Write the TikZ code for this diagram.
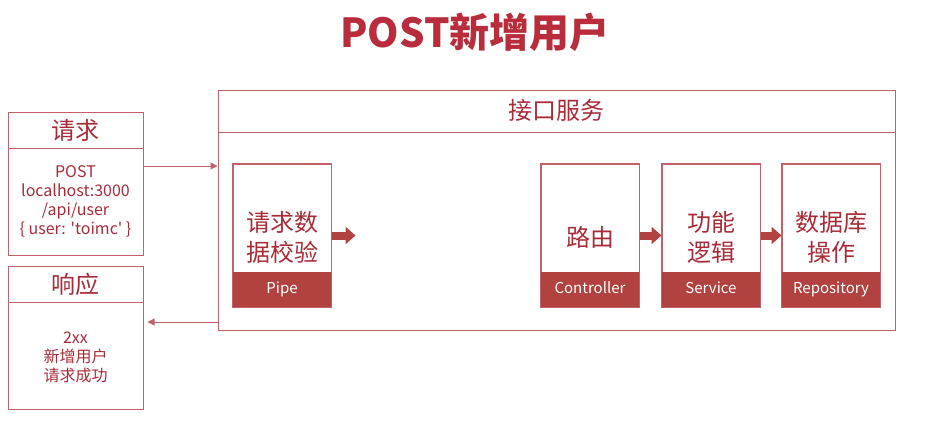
\documentclass[tikz,border=0pt]{standalone}
\usepackage{fontspec}
\setmainfont{Noto Sans CJK SC}
\usetikzlibrary{positioning,arrows.meta,calc}

\definecolor{edgered}{RGB}{196,96,106}
\definecolor{fillred}{RGB}{178,66,64}
\definecolor{textred}{RGB}{168,44,56}
\definecolor{titlered}{RGB}{184,44,60}

\begin{document}
\begin{tikzpicture}[
  x=1pt, y=-1pt,
  panel/.style={draw=edgered, line width=1pt, inner sep=0pt},
  stage/.style={panel, minimum width=98pt, minimum height=143pt},
  rule/.style={draw=edgered, line width=1pt},
  head/.style={text=textred, font=\fontsize{24}{28}\selectfont},
  body/.style={text=textred, align=center, font=\fontsize{16}{19}\selectfont},
  big/.style={text=textred, align=center, font=\fontsize{24}{30}\selectfont},
  tag/.style={text=white, text height=11pt, text depth=3pt, font=\fontsize{15}{18}\selectfont},
  link/.style={-{Triangle[length=7pt,width=7pt]}, draw=edgered, line width=1pt},
  blockarrow/.style={-{Triangle[length=10pt,width=17pt]}, draw=fillred, line width=8pt}
]
\useasboundingbox (0,0) rectangle (940,424);

% --- title ---
\node[text=titlered, font=\fontsize{40}{44}\selectfont\bfseries] (title) at (475,32) {POST新增用户};

% --- request / response panels on the left ---
\node[panel, minimum width=135pt, minimum height=143pt] (req) at (75.5,183.5) {};
\draw[rule] ($(req.north west)+(0,37)$) -- ($(req.north east)+(0,37)$);
\node[head] (reqhead) at ($(req.north)+(0,19)$) {请求};
\node[body] (reqbody) at ($(req.north)+(0,90)$) {POST\\localhost:3000\\/api/user\\\{ user: \textquotesingle toimc\textquotesingle\ \}};

\node[panel, minimum width=135pt, minimum height=143pt] (resp) at (75.5,337.5) {};
\draw[rule] ($(resp.north west)+(0,37)$) -- ($(resp.north east)+(0,37)$);
\node[head] (resphead) at ($(resp.north)+(0,19)$) {响应};
\node[body] (respbody) at ($(resp.north)+(0,92)$) {2xx\\新增用户\\请求成功};

% --- interface service frame ---
\node[panel, minimum width=677pt, minimum height=240pt] (svc) at (556.5,210) {};
\draw[rule] ($(svc.north west)+(0,43)$) -- ($(svc.north east)+(0,43)$);
\node[head] (svchead) at ($(svc.north)+(0,21)$) {接口服务};

% request in, response out
\draw[link] ($(req.east)+(0,-17.5)$) coordinate (reqout) -- (reqout -| svc.west);
\coordinate (respin) at ($(resp.east)+(4,-15.5)$);
\draw[link] (respin -| svc.west) -- (respin);

% --- processing stages ---
\foreach \name/\x/\txt/\tag in {pipe/282/{请求数\\据校验}/Pipe, ctrl/590/{路由}/Controller,
    serv/711/{功能\\逻辑}/Service, repo/831/{数据库\\操作}/Repository} {
  \node[stage] (\name) at (\x,235.5) {};
  \fill[fillred] ($(\name.south west)+(0,-36)$) rectangle (\name.south east);
  \draw[rule] (\name.south west) rectangle (\name.north east);
  \node[tag] at ($(\name.south)+(0,-18)$) {\tag};
  \node[big] at ($(\name.center)+(0,2)$) {\txt};
}

\draw[blockarrow] (pipe.east) -- ++(24,0) coordinate (pipeout);
\draw[blockarrow] (ctrl.east) -- (serv.west);
\draw[blockarrow] (serv.east) -- (repo.west);

\end{tikzpicture}
\end{document}
